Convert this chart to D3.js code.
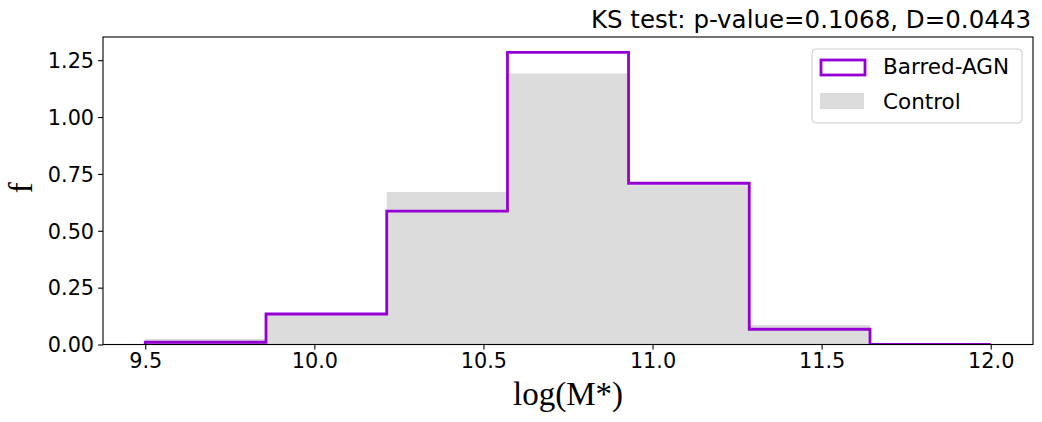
<!DOCTYPE html>
<html>
<head>
<meta charset="utf-8">
<script src="https://cdn.jsdelivr.net/npm/d3@7"></script>
<style>
  body { margin: 0; background: #fff; }
  text { font-family: "DejaVu Sans", sans-serif; fill: #000; }
</style>
</head>
<body>
<svg id="svg0"></svg>
<script>
// histogram bin edges (log M*)
let binEdges = [9.5, 9.857, 10.214, 10.571, 10.929, 11.286, 11.643, 12.0];
// normalised counts per bin
let agnValues = [0.010, 0.134, 0.586, 1.284, 0.709, 0.067, 0.0];
let controlValues = [0.024, 0.130, 0.671, 1.192, 0.700, 0.086, 0.0];
let xTicks = [9.5, 10.0, 10.5, 11.0, 11.5, 12.0];
let yTicks = [0, 0.25, 0.5, 0.75, 1.0, 1.25];
let seriesNames = ['Barred-AGN', 'Control'];
let titleText = 'KS test: p-value=0.1068, D=0.0443';

let totalW = 1042, totalH = 422;
let margin = {top: 37, right: 9, bottom: 77.5, left: 103};
let width = totalW - margin.left - margin.right;
let height = totalH - margin.top - margin.bottom;

let svg = d3.select('#svg0').attr('width', totalW).attr('height', totalH);

let xScale = d3.scaleLinear().domain([9.375, 12.125]).range([0, width]);
let yScale = d3.scaleLinear().domain([0, 1.352]).range([height, 0]);

let g = svg.append('g').attr('transform', 'translate(' + margin.left + ', ' + margin.top + ')');

g.append('clipPath').attr('id', 'plotClip')
    .append('rect').attr('width', width).attr('height', height);

// step data: repeat last value so the final edge is reached
let stepData = (vals)=>{
    return binEdges.map((e, i)=>{return [e, i < vals.length ? vals[i] : vals[vals.length - 1]];});
};

// control, filled steps
let area = d3.area().curve(d3.curveStepAfter)
    .x(d=>{return xScale(d[0]);})
    .y0(yScale(0))
    .y1(d=>{return yScale(d[1]);});
g.append('path').datum(stepData(controlValues))
    .attr('clip-path', 'url(#plotClip)')
    .attr('d', area)
    .style('fill', '#dcdcdc');

// barred-agn, outline steps starting and ending at zero
let outline = [[binEdges[0], 0]];
agnValues.forEach((v, i)=>{
    outline.push([binEdges[i], v]);
    outline.push([binEdges[i + 1], v]);
});
outline.push([binEdges[binEdges.length - 1], 0]);
let line = d3.line().x(d=>{return xScale(d[0]);}).y(d=>{return yScale(d[1]);});
g.append('path').datum(outline)
    .attr('clip-path', 'url(#plotClip)')
    .attr('d', line)
    .style('fill', 'none')
    .style('stroke', '#9400d3')
    .style('stroke-width', '2.8px')
    .style('stroke-linejoin', 'miter');

// axes
let xAxis = g.append('g').attr('transform', 'translate(0, ' + height + ')')
    .call(d3.axisBottom(xScale).tickValues(xTicks).tickFormat(d3.format('.1f')).tickSize(4.9).tickPadding(4));
let yAxis = g.append('g')
    .call(d3.axisLeft(yScale).tickValues(yTicks).tickFormat(d3.format('.2f')).tickSize(4.9).tickPadding(4));
[xAxis, yAxis].forEach(ax=>{
    ax.select('.domain').remove();
    ax.selectAll('line').style('stroke', '#000').style('stroke-width', '1.1px');
    ax.selectAll('text').style('font-size', '20.8px').style('font-family', '"DejaVu Sans", sans-serif').style('fill', '#000');
});
yAxis.selectAll('text').attr('dy', '0.35em');

// frame
g.append('rect').attr('width', width).attr('height', height)
    .style('fill', 'none').style('stroke', '#000').style('stroke-width', '1.1px');

// axis labels
svg.append('text')
    .attr('x', margin.left + width / 2).attr('y', 405)
    .text('log(M*)')
    .style('font-family', '"Liberation Serif", serif').style('font-size', '33px')
    .style('text-anchor', 'middle');
svg.append('text')
    .attr('transform', 'translate(32, ' + (margin.top + height / 2 - 3) + ') rotate(-90)')
    .text('f')
    .style('font-family', '"Liberation Serif", serif').style('font-size', '33px')
    .style('text-anchor', 'middle');

// title
svg.append('text')
    .attr('x', margin.left + width - 2).attr('y', 28)
    .text(titleText)
    .style('font-size', '24.5px').style('text-anchor', 'end');

// legend
let lg = svg.append('g').attr('transform', 'translate(812, 49)');
lg.append('rect').attr('width', 210).attr('height', 74).attr('rx', 4)
    .style('fill', '#fff').style('fill-opacity', 0.8)
    .style('stroke', '#cccccc').style('stroke-width', '1px');
lg.append('rect').attr('x', 9).attr('y', 11).attr('width', 44).attr('height', 15)
    .style('fill', 'none').style('stroke', '#9400d3').style('stroke-width', '2.8px');
lg.append('rect').attr('x', 8).attr('y', 44).attr('width', 44).attr('height', 16)
    .style('fill', '#dcdcdc');
lg.selectAll('.ltext').data(seriesNames).enter().append('text')
    .attr('class', 'ltext')
    .attr('x', 71)
    .attr('y', (d, i)=>{return 25 + i * 35;})
    .text(d=>{return d;})
    .style('font-size', '21.5px');
</script>
</body>
</html>
